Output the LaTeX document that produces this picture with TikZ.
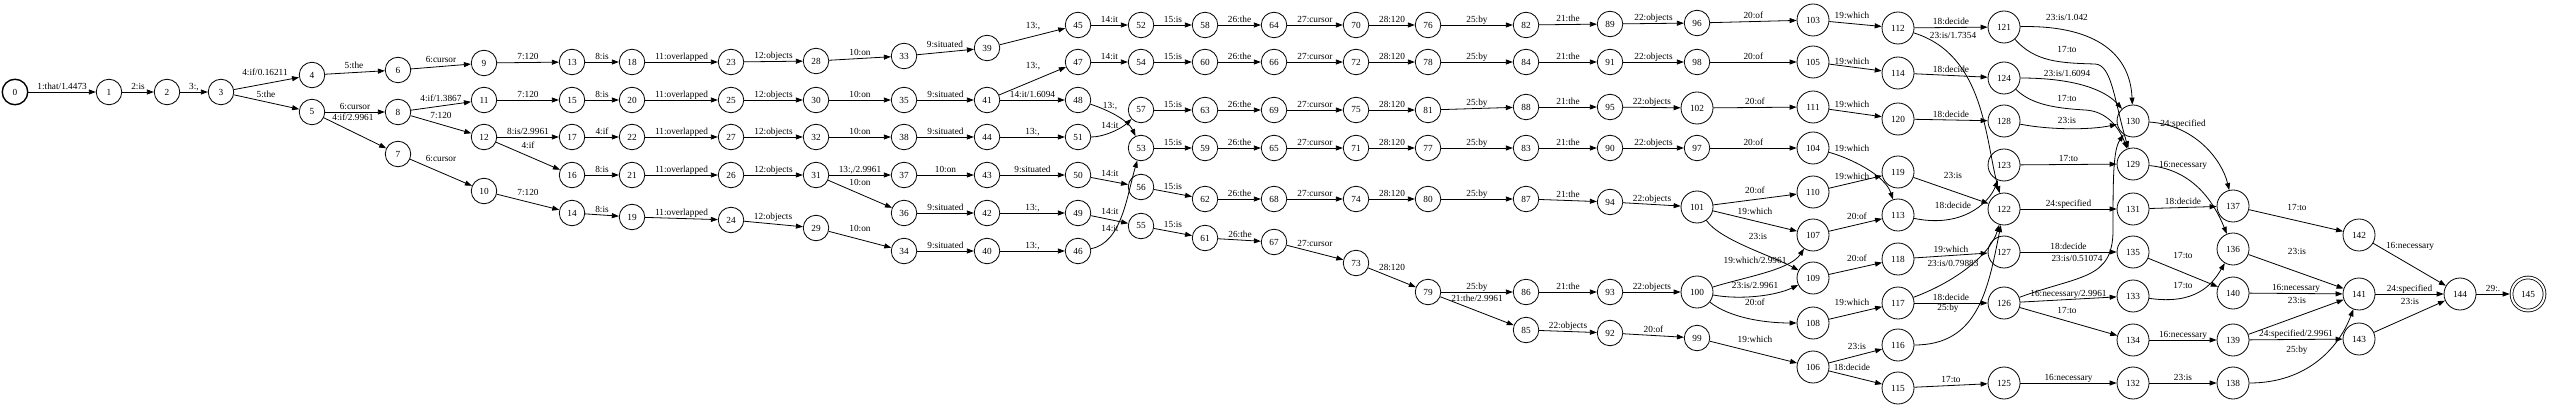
\documentclass[tikz,border=0pt]{standalone}
\usepackage{fontspec}
\setmainfont{Liberation Serif}
\usepackage{tikz}
\usetikzlibrary{arrows.meta}
\newcommand{\lblfont}{\fontsize{9.3}{10}\selectfont}
\tikzset{
    state/.style={draw, circle, minimum size=25.5pt, inner sep=0pt, line width=0.8pt, font=\lblfont},
    bigstate/.style={state, minimum size=32pt},
    start/.style={state, line width=1.4pt},
    final/.style={state, double, double distance=2pt, minimum size=33pt, outer sep=1.8pt},
    arrow/.style={line width=0.8pt, -{Triangle[length=7pt,width=5pt]}},
    lbl/.style={font=\lblfont, inner sep=0.4pt, text height=6.2pt, text depth=1.9pt}
}
\begin{document}
\begin{tikzpicture}[x=1pt, y=-1pt]
\useasboundingbox (0,0) rectangle (2550,406);

\node [start]    (s0)   at (15,92)    {0};
\node [state]    (s1)   at (109,92)   {1};
\node [state]    (s2)   at (167,92)   {2};
\node [state]    (s3)   at (221,92)   {3};
\node [state]    (s4)   at (312,75)   {4};
\node [state]    (s5)   at (312,112)  {5};
\node [state]    (s6)   at (398,70)   {6};
\node [state]    (s8)   at (398,112)  {8};
\node [state]    (s7)   at (398,154)  {7};
\node [state]    (s9)   at (484,63)   {9};
\node [state]    (s11)  at (484,100)  {11};
\node [state]    (s12)  at (484,137)  {12};
\node [state]    (s10)  at (484,191)  {10};
\node [state]    (s13)  at (572,62)   {13};
\node [state]    (s15)  at (572,100)  {15};
\node [state]    (s17)  at (572,137)  {17};
\node [state]    (s16)  at (572,175)  {16};
\node [state]    (s14)  at (572,213)  {14};
\node [state]    (s18)  at (632,62)   {18};
\node [state]    (s20)  at (632,100)  {20};
\node [state]    (s22)  at (632,137)  {22};
\node [state]    (s21)  at (632,175)  {21};
\node [state]    (s19)  at (632,217)  {19};
\node [state]    (s23)  at (731,62)   {23};
\node [state]    (s25)  at (731,100)  {25};
\node [state]    (s27)  at (731,137)  {27};
\node [state]    (s26)  at (731,175)  {26};
\node [state]    (s24)  at (731,220)  {24};
\node [state]    (s28)  at (816,61)   {28};
\node [state]    (s30)  at (816,100)  {30};
\node [state]    (s32)  at (816,137)  {32};
\node [state]    (s31)  at (816,175)  {31};
\node [state]    (s29)  at (816,228)  {29};
\node [state]    (s33)  at (904,56)   {33};
\node [state]    (s35)  at (904,100)  {35};
\node [state]    (s38)  at (904,137)  {38};
\node [state]    (s37)  at (904,175)  {37};
\node [state]    (s36)  at (904,213)  {36};
\node [state]    (s34)  at (904,251)  {34};
\node [state]    (s39)  at (987,48)   {39};
\node [state]    (s41)  at (987,100)  {41};
\node [state]    (s44)  at (987,137)  {44};
\node [state]    (s43)  at (987,175)  {43};
\node [state]    (s42)  at (987,213)  {42};
\node [state]    (s40)  at (987,251)  {40};
\node [state]    (s45)  at (1078,25)  {45};
\node [state]    (s47)  at (1078,62)  {47};
\node [state]    (s48)  at (1078,100) {48};
\node [state]    (s51)  at (1078,137) {51};
\node [state]    (s50)  at (1078,175) {50};
\node [state]    (s49)  at (1078,213) {49};
\node [state]    (s46)  at (1078,251) {46};
\node [state]    (s52)  at (1141,25)  {52};
\node [state]    (s54)  at (1141,62)  {54};
\node [state]    (s57)  at (1141,110) {57};
\node [state]    (s53)  at (1141,148) {53};
\node [state]    (s56)  at (1141,187) {56};
\node [state]    (s55)  at (1141,226) {55};
\node [state]    (s58)  at (1205,25)  {58};
\node [state]    (s60)  at (1205,62)  {60};
\node [state]    (s63)  at (1205,110) {63};
\node [state]    (s59)  at (1205,148) {59};
\node [state]    (s62)  at (1205,199) {62};
\node [state]    (s61)  at (1205,238) {61};
\node [state]    (s64)  at (1274,25)  {64};
\node [state]    (s66)  at (1274,62)  {66};
\node [state]    (s69)  at (1274,110) {69};
\node [state]    (s65)  at (1274,148) {65};
\node [state]    (s68)  at (1274,199) {68};
\node [state]    (s67)  at (1274,242) {67};
\node [state]    (s70)  at (1356,25)  {70};
\node [state]    (s72)  at (1356,62)  {72};
\node [state]    (s75)  at (1356,110) {75};
\node [state]    (s71)  at (1356,148) {71};
\node [state]    (s74)  at (1356,199) {74};
\node [state]    (s73)  at (1356,263) {73};
\node [state]    (s76)  at (1428,25)  {76};
\node [state]    (s78)  at (1428,62)  {78};
\node [state]    (s81)  at (1428,110) {81};
\node [state]    (s77)  at (1428,148) {77};
\node [state]    (s80)  at (1428,199) {80};
\node [state]    (s79)  at (1428,292) {79};
\node [state]    (s82)  at (1526,25)  {82};
\node [state]    (s84)  at (1526,62)  {84};
\node [state]    (s88)  at (1526,107) {88};
\node [state]    (s83)  at (1526,148) {83};
\node [state]    (s87)  at (1526,199) {87};
\node [state]    (s86)  at (1526,292) {86};
\node [state]    (s85)  at (1526,330) {85};
\node [state]    (s89)  at (1610,24)  {89};
\node [state]    (s91)  at (1610,62)  {91};
\node [state]    (s95)  at (1610,107) {95};
\node [state]    (s90)  at (1610,148) {90};
\node [state]    (s94)  at (1610,202) {94};
\node [state]    (s93)  at (1610,292) {93};
\node [state]    (s92)  at (1610,333) {92};
\node [state]    (s96)  at (1697,23)  {96};
\node [state]    (s98)  at (1697,62)  {98};
\node [bigstate] (s102) at (1697,108) {102};
\node [state]    (s97)  at (1697,148) {97};
\node [bigstate] (s101) at (1697,207) {101};
\node [bigstate] (s100) at (1697,292) {100};
\node [state]    (s99)  at (1697,338) {99};
\node [bigstate] (s103) at (1813,20)  {103};
\node [bigstate] (s105) at (1813,62)  {105};
\node [bigstate] (s111) at (1813,107) {111};
\node [bigstate] (s104) at (1813,148) {104};
\node [bigstate] (s110) at (1813,192) {110};
\node [bigstate] (s107) at (1813,235) {107};
\node [bigstate] (s109) at (1813,278) {109};
\node [bigstate] (s108) at (1813,323) {108};
\node [bigstate] (s106) at (1813,367) {106};
\node [bigstate] (s112) at (1898,28)  {112};
\node [bigstate] (s114) at (1898,73)  {114};
\node [bigstate] (s120) at (1898,119) {120};
\node [bigstate] (s119) at (1898,172) {119};
\node [bigstate] (s113) at (1898,215) {113};
\node [bigstate] (s118) at (1898,259) {118};
\node [bigstate] (s117) at (1898,303) {117};
\node [bigstate] (s116) at (1898,345) {116};
\node [bigstate] (s115) at (1898,388) {115};
\node [bigstate] (s121) at (2004,27)  {121};
\node [bigstate] (s124) at (2004,78)  {124};
\node [bigstate] (s128) at (2004,121) {128};
\node [bigstate] (s123) at (2004,165) {123};
\node [bigstate] (s122) at (2004,209) {122};
\node [bigstate] (s127) at (2004,252) {127};
\node [bigstate] (s126) at (2004,303) {126};
\node [bigstate] (s125) at (2004,383) {125};
\node [bigstate] (s130) at (2133,121) {130};
\node [bigstate] (s129) at (2133,164) {129};
\node [bigstate] (s131) at (2133,209) {131};
\node [bigstate] (s135) at (2133,252) {135};
\node [bigstate] (s133) at (2133,296) {133};
\node [bigstate] (s134) at (2133,340) {134};
\node [bigstate] (s132) at (2133,383) {132};
\node [bigstate] (s137) at (2233,206) {137};
\node [bigstate] (s136) at (2233,249) {136};
\node [bigstate] (s140) at (2233,293) {140};
\node [bigstate] (s139) at (2233,340) {139};
\node [bigstate] (s138) at (2233,383) {138};
\node [bigstate] (s142) at (2359,235) {142};
\node [bigstate] (s141) at (2359,294) {141};
\node [bigstate] (s143) at (2359,339) {143};
\node [bigstate] (s144) at (2460,294) {144};
\node [final]    (s145) at (2528,294) {145};

\draw [arrow] (s0) -- node [lbl, above] {1:that/1.4473} (s1);
\draw [arrow] (s1) -- node [lbl, above] {2:is} (s2);
\draw [arrow] (s2) -- node [lbl, above] {3:,} (s3);
\draw [arrow] (s3) -- (s4) node [lbl] at (265,73) {4:if/0.16211};
\draw [arrow] (s3) -- (s5) node [lbl] at (266,95) {5:the};
\draw [arrow] (s4) -- (s6) node [lbl] at (354,66) {5:the};
\draw [arrow] (s5) -- node [lbl, above] {6:cursor} (s8);
\draw [arrow] (s5) -- (s7) node [lbl] at (353,118) {4:if/2.9961};
\draw [arrow] (s6) -- (s9) node [lbl] at (441,60) {6:cursor};
\draw [arrow] (s8) -- (s11) node [lbl] at (441,99) {4:if/1.3867};
\draw [arrow] (s8) -- (s12) node [lbl] at (441,116) {7:120};
\draw [arrow] (s7) -- (s10) node [lbl] at (441,159) {6:cursor};
\draw [arrow] (s9) -- node [lbl, above] {7:120} (s13);
\draw [arrow] (s11) -- node [lbl, above] {7:120} (s15);
\draw [arrow] (s12) -- node [lbl, above] {8:is/2.9961} (s17);
\draw [arrow] (s12) -- (s16) node [lbl] at (528,146) {4:if};
\draw [arrow] (s10) -- (s14) node [lbl] at (528,193) {7:120};
\draw [arrow] (s13) -- node [lbl, above] {8:is} (s18);
\draw [arrow] (s15) -- node [lbl, above] {8:is} (s20);
\draw [arrow] (s17) -- node [lbl, above] {4:if} (s22);
\draw [arrow] (s16) -- node [lbl, above] {8:is} (s21);
\draw [arrow] (s14) -- node [lbl, above] {8:is} (s19);
\draw [arrow] (s18) -- node [lbl, above] {11:overlapped} (s23);
\draw [arrow] (s20) -- node [lbl, above] {11:overlapped} (s25);
\draw [arrow] (s22) -- node [lbl, above] {11:overlapped} (s27);
\draw [arrow] (s21) -- node [lbl, above] {11:overlapped} (s26);
\draw [arrow] (s19) -- node [lbl, above] {11:overlapped} (s24);
\draw [arrow] (s23) -- node [lbl, above] {12:objects} (s28);
\draw [arrow] (s25) -- node [lbl, above] {12:objects} (s30);
\draw [arrow] (s27) -- node [lbl, above] {12:objects} (s32);
\draw [arrow] (s26) -- node [lbl, above] {12:objects} (s31);
\draw [arrow] (s24) -- (s29) node [lbl] at (773,217) {12:objects};
\draw [arrow] (s28) -- (s33) node [lbl] at (860,53) {10:on};
\draw [arrow] (s30) -- node [lbl, above] {10:on} (s35);
\draw [arrow] (s32) -- node [lbl, above] {10:on} (s38);
\draw [arrow] (s31) -- node [lbl, above] {13:,/2.9961} (s37);
\draw [arrow] (s31) -- (s36) node [lbl] at (860,183) {10:on};
\draw [arrow] (s29) -- (s34) node [lbl] at (860,229) {10:on};
\draw [arrow] (s33) -- (s39) node [lbl] at (945,45) {9:situated};
\draw [arrow] (s35) -- node [lbl, above] {9:situated} (s41);
\draw [arrow] (s38) -- node [lbl, above] {9:situated} (s44);
\draw [arrow] (s37) -- node [lbl, above] {10:on} (s43);
\draw [arrow] (s36) -- node [lbl, above] {9:situated} (s42);
\draw [arrow] (s34) -- node [lbl, above] {9:situated} (s40);
\draw [arrow] (s39) -- (s45) node [lbl] at (1033,26) {13:,};
\draw [arrow] (s41) -- (s47) node [lbl] at (1033,66) {13:,};
\draw [arrow] (s41) -- node [lbl, above] {14:it/1.6094} (s48);
\draw [arrow] (s44) -- node [lbl, above] {13:,} (s51);
\draw [arrow] (s43) -- node [lbl, above] {9:situated} (s50);
\draw [arrow] (s42) -- node [lbl, above] {13:,} (s49);
\draw [arrow] (s40) -- node [lbl, above] {13:,} (s46);
\draw [arrow] (s45) -- node [lbl, above] {14:it} (s52);
\draw [arrow] (s47) -- node [lbl, above] {14:it} (s54);
\draw [arrow] (s48) .. controls (1108,110) and (1128,120) .. (s53) node [lbl] at (1110,106) {13:,};
\draw [arrow] (s51) .. controls (1105,137) and (1122,128) .. (s57) node [lbl] at (1110,126) {14:it};
\draw [arrow] (s50) -- (s56) node [lbl] at (1110,174) {14:it};
\draw [arrow] (s49) -- (s55) node [lbl] at (1110,212) {14:it};
\draw [arrow] (s46) .. controls (1122,243) and (1127,195) .. (s53) node [lbl] at (1110,229) {14:it};
\draw [arrow] (s52) -- node [lbl, above] {15:is} (s58);
\draw [arrow] (s54) -- node [lbl, above] {15:is} (s60);
\draw [arrow] (s57) -- node [lbl, above] {15:is} (s63);
\draw [arrow] (s53) -- node [lbl, above] {15:is} (s59);
\draw [arrow] (s56) -- (s62) node [lbl] at (1173,187) {15:is};
\draw [arrow] (s55) -- (s61) node [lbl] at (1173,225) {15:is};
\draw [arrow] (s58) -- node [lbl, above] {26:the} (s64);
\draw [arrow] (s60) -- node [lbl, above] {26:the} (s66);
\draw [arrow] (s63) -- node [lbl, above] {26:the} (s69);
\draw [arrow] (s59) -- node [lbl, above] {26:the} (s65);
\draw [arrow] (s62) -- node [lbl, above] {26:the} (s68);
\draw [arrow] (s61) -- (s67) node [lbl] at (1240,235) {26:the};
\draw [arrow] (s64) -- node [lbl, above] {27:cursor} (s70);
\draw [arrow] (s66) -- node [lbl, above] {27:cursor} (s72);
\draw [arrow] (s69) -- node [lbl, above] {27:cursor} (s75);
\draw [arrow] (s65) -- node [lbl, above] {27:cursor} (s71);
\draw [arrow] (s68) -- node [lbl, above] {27:cursor} (s74);
\draw [arrow] (s67) -- (s73) node [lbl] at (1315,244) {27:cursor};
\draw [arrow] (s70) -- node [lbl, above] {28:120} (s76);
\draw [arrow] (s72) -- node [lbl, above] {28:120} (s78);
\draw [arrow] (s75) -- node [lbl, above] {28:120} (s81);
\draw [arrow] (s71) -- node [lbl, above] {28:120} (s77);
\draw [arrow] (s74) -- node [lbl, above] {28:120} (s80);
\draw [arrow] (s73) -- (s79) node [lbl] at (1392,268) {28:120};
\draw [arrow] (s76) -- node [lbl, above] {25:by} (s82);
\draw [arrow] (s78) -- node [lbl, above] {25:by} (s84);
\draw [arrow] (s81) -- node [lbl, above] {25:by} (s88);
\draw [arrow] (s77) -- node [lbl, above] {25:by} (s83);
\draw [arrow] (s80) -- node [lbl, above] {25:by} (s87);
\draw [arrow] (s79) -- node [lbl, above] {25:by} (s86);
\draw [arrow] (s79) -- (s85) node [lbl] at (1477,299) {21:the/2.9961};
\draw [arrow] (s82) -- node [lbl, above] {21:the} (s89);
\draw [arrow] (s84) -- node [lbl, above] {21:the} (s91);
\draw [arrow] (s88) -- node [lbl, above] {21:the} (s95);
\draw [arrow] (s83) -- node [lbl, above] {21:the} (s90);
\draw [arrow] (s87) -- node [lbl, above] {21:the} (s94);
\draw [arrow] (s86) -- node [lbl, above] {21:the} (s93);
\draw [arrow] (s89) -- node [lbl, above] {22:objects} (s96);
\draw [arrow] (s91) -- node [lbl, above] {22:objects} (s98);
\draw [arrow] (s95) -- node [lbl, above] {22:objects} (s102);
\draw [arrow] (s90) -- node [lbl, above] {22:objects} (s97);
\draw [arrow] (s94) -- (s101) node [lbl] at (1652,199) {22:objects};
\draw [arrow] (s93) -- node [lbl, above] {22:objects} (s100);
\draw [arrow] (s85) -- node [lbl, above] {22:objects} (s92);
\draw [arrow] (s92) -- node [lbl, above] {20:of} (s99);
\draw [arrow] (s96) -- node [lbl, above] {20:of} (s103);
\draw [arrow] (s98) -- node [lbl, above] {20:of} (s105);
\draw [arrow] (s102) -- node [lbl, above] {20:of} (s111);
\draw [arrow] (s97) -- node [lbl, above] {20:of} (s104);
\draw [arrow] (s101) -- (s110) node [lbl] at (1755,191) {20:of};
\draw [arrow] (s101) -- (s107) node [lbl] at (1755,212) {19:which};
\draw [arrow] (s101) .. controls (1720,240) and (1770,255) .. (s109) node [lbl] at (1758,237) {23:is};
\draw [arrow] (s100) .. controls (1745,277) and (1790,270) .. (s107) node [lbl] at (1755,261) {19:which/2.9961};
\draw [arrow] (s100) .. controls (1740,300) and (1775,296) .. (s109) node [lbl] at (1755,286) {23:is/2.9961};
\draw [arrow] (s100) .. controls (1730,318) and (1765,323) .. (s108) node [lbl] at (1755,303) {20:of};
\draw [arrow] (s99) -- (s106) node [lbl] at (1755,340) {19:which};
\draw [arrow] (s103) -- (s112) node [lbl] at (1852,16) {19:which};
\draw [arrow] (s105) -- (s114) node [lbl] at (1852,62) {19:which};
\draw [arrow] (s111) -- (s120) node [lbl] at (1852,105) {19:which};
\draw [arrow] (s104) .. controls (1850,158) and (1885,175) .. (s113) node [lbl] at (1852,149) {19:which};
\draw [arrow] (s110) -- (s119) node [lbl] at (1852,177) {19:which};
\draw [arrow] (s107) -- (s113) node [lbl] at (1857,217) {20:of};
\draw [arrow] (s109) -- (s118) node [lbl] at (1857,259) {20:of};
\draw [arrow] (s108) -- (s117) node [lbl] at (1852,303) {19:which};
\draw [arrow] (s106) -- (s116) node [lbl] at (1857,347) {23:is};
\draw [arrow] (s106) -- (s115) node [lbl] at (1852,368) {18:decide};
\draw [arrow] (s112) -- node [lbl, above] {18:decide} (s121);
\draw [arrow] (s112) .. controls (1985,55) and (1985,140) .. (s122) node [lbl] at (1953,36) {23:is/1.7354};
\draw [arrow] (s114) -- node [lbl, above] {18:decide} (s124);
\draw [arrow] (s120) -- node [lbl, above] {18:decide} (s128);
\draw [arrow] (s119) -- (s122) node [lbl] at (1953,176) {23:is};
\draw [arrow] (s113) .. controls (1960,228) and (1988,205) .. (s123) node [lbl] at (1953,206) {18:decide};
\draw [arrow] (s118) -- node [lbl, above] {19:which} (s127);
\draw [arrow] (s117) .. controls (1955,282) and (1990,255) .. (s122) node [lbl] at (1953,264) {23:is/0.79883};
\draw [arrow] (s117) -- node [lbl, above] {18:decide} (s126);
\draw [arrow] (s116) .. controls (1978,345) and (1988,290) .. (s122) node [lbl] at (1948,308) {25:by};
\draw [arrow] (s115) -- node [lbl, above] {17:to} (s125);
\draw [arrow] (s121) .. controls (2090,25) and (2130,50) .. (s130) node [lbl] at (2067,18) {23:is/1.042};
\draw [arrow] (s121) .. controls (2035,62) and (2060,63) .. (2095,64) .. controls (2112,65) and (2114,100) .. (s129) node [lbl] at (2067,50) {17:to};
\draw [arrow] (s124) .. controls (2075,78) and (2105,90) .. (s130) node [lbl] at (2067,74) {23:is/1.6094};
\draw [arrow] (s124) .. controls (2030,103) and (2050,108) .. (2085,110) .. controls (2105,111) and (2118,125) .. (s129) node [lbl] at (2067,99) {17:to};
\draw [arrow] (s128) .. controls (2050,130) and (2090,130) .. (s130) node [lbl] at (2067,121) {23:is};
\draw [arrow] (s123) -- node [lbl, above] {17:to} (s129);
\draw [arrow] (s122) -- node [lbl, above] {24:specified} (s131);
\draw [arrow] (s127) -- node [lbl, above] {18:decide} (s135);
\draw [arrow] (s126) .. controls (2080,275) and (2113,280) .. (2113,230) .. controls (2113,180) and (2113,150) .. (s130) node [lbl] at (2077,259) {23:is/0.51074};
\draw [arrow] (s126) -- node [lbl, above] {16:necessary/2.9961} (s133);
\draw [arrow] (s126) -- (s134) node [lbl] at (2067,311) {17:to};
\draw [arrow] (s125) -- node [lbl, above] {16:necessary} (s132);
\draw [arrow] (s130) .. controls (2195,125) and (2222,160) .. (s137) node [lbl] at (2183,124) {24:specified};
\draw [arrow] (s129) .. controls (2195,170) and (2215,205) .. (s136) node [lbl] at (2183,165) {16:necessary};
\draw [arrow] (s131) -- node [lbl, above] {18:decide} (s137);
\draw [arrow] (s135) -- (s140) node [lbl] at (2183,256) {17:to};
\draw [arrow] (s133) .. controls (2195,305) and (2212,285) .. (s136) node [lbl] at (2183,286) {17:to};
\draw [arrow] (s134) -- node [lbl, above] {16:necessary} (s139);
\draw [arrow] (s132) -- node [lbl, above] {23:is} (s138);
\draw [arrow] (s137) -- (s142) node [lbl] at (2297,208) {17:to};
\draw [arrow] (s136) -- (s141) node [lbl] at (2297,252) {23:is};
\draw [arrow] (s140) -- node [lbl, above] {16:necessary} (s141);
\draw [arrow] (s139) -- (s141) node [lbl] at (2297,301) {23:is};
\draw [arrow] (s139) -- node [lbl, above] {24:specified/2.9961} (s143);
\draw [arrow] (s138) .. controls (2305,383) and (2338,350) .. (s141) node [lbl] at (2297,350) {25:by};
\draw [arrow] (s142) -- (s144) node [lbl] at (2410,246) {16:necessary};
\draw [arrow] (s141) -- node [lbl, above] {24:specified} (s144);
\draw [arrow] (s143) -- (s144) node [lbl] at (2410,302) {23:is};
\draw [arrow] (s144) -- node [lbl, above] {29:.} (s145);

\end{tikzpicture}
\end{document}
